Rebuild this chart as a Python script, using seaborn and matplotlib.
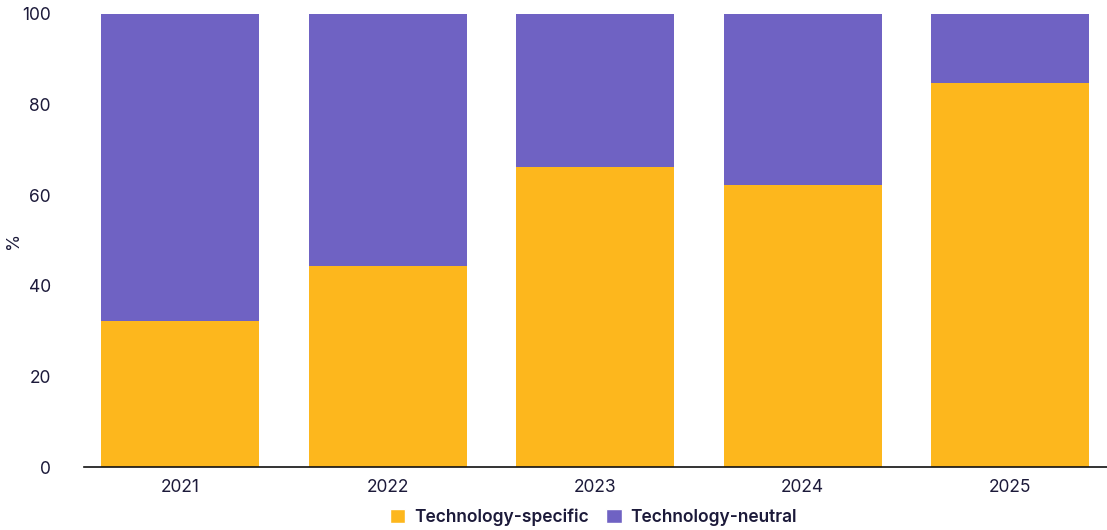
import matplotlib
matplotlib.use("Agg")
import matplotlib.pyplot as plt
import seaborn as sns
import pandas as pd
from matplotlib.patches import Patch

years = ["2021", "2022", "2023", "2024", "2025"]
tech_specific = [32.2, 44.4, 66.2, 62.3, 84.8]
tech_neutral = [100 - v for v in tech_specific]
y_ticks = [0, 20, 40, 60, 80, 100]

ORANGE = "#FDB71D"
PURPLE = "#6F62C3"
TEXT = "#1C1A3A"

sns.set_theme(style="white")
plt.rcParams["font.family"] = ["Inter", "DejaVu Sans"]

df = pd.DataFrame({
    "year": years,
    "specific": tech_specific,
    "neutral": tech_neutral,
})
df["total"] = df["specific"] + df["neutral"]

fig = plt.figure(figsize=(11.07, 5.30), dpi=100)
ax = fig.add_axes([84 / 1107, 63 / 530, (1107 - 84) / 1107, (467 - 14) / 530])

# Stacked bars: full-height neutral share behind, specific share in front
sns.barplot(data=df, x="year", y="total", color=PURPLE, width=0.762,
            saturation=1, linewidth=0, ax=ax)
sns.barplot(data=df, x="year", y="specific", color=ORANGE, width=0.762,
            saturation=1, linewidth=0, ax=ax)

ax.set_ylim(0, 100)
ax.set_xlim(-0.463, 4.467)
ax.set_yticks(y_ticks)
ax.set_yticklabels([str(t) for t in y_ticks], fontsize=12.5, color=TEXT)
ax.tick_params(axis="x", labelsize=12.5, colors=TEXT, length=0, pad=9)
ax.tick_params(axis="y", length=0, pad=24)
ax.set_xlabel("")
ax.set_ylabel("%", fontsize=12.5, color=TEXT)
ax.yaxis.set_label_coords(-62 / 1023, 0.5)

for side in ["top", "right", "left"]:
    ax.spines[side].set_visible(False)
ax.spines["bottom"].set_color("#111111")
ax.spines["bottom"].set_linewidth(1.2)

handles = [Patch(facecolor=ORANGE, label="Technology-specific"),
           Patch(facecolor=PURPLE, label="Technology-neutral")]
fig.legend(handles=handles, loc="lower center", bbox_to_anchor=(0.536, -0.022),
           ncol=2, frameon=False, handlelength=0.9, handleheight=0.9,
           handletextpad=0.5, columnspacing=1.0,
           prop={"size": 12.5, "weight": "semibold"}, labelcolor=TEXT)

fig.savefig("out.png", dpi=100)
